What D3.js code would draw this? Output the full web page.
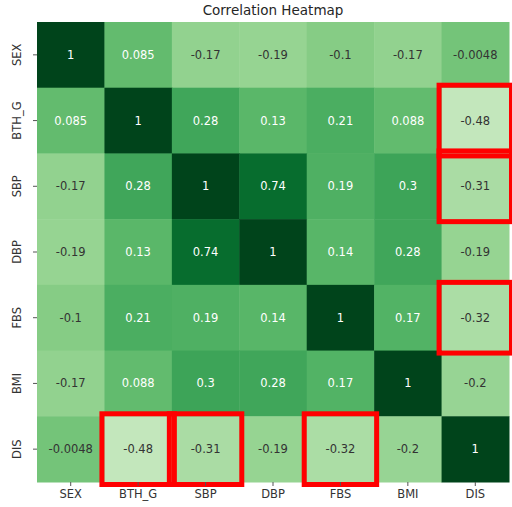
<!DOCTYPE html>
<html><head><meta charset="utf-8">
<script src="https://cdn.jsdelivr.net/npm/d3@7"></script>
<style>body{margin:0;background:#fff}svg{display:block}text{font-family:"DejaVu Sans",sans-serif}</style>
</head><body>
<svg id="c" width="512" height="507"></svg>
<script>
const labels = ["SEX","BTH_G","SBP","DBP","FBS","BMI","DIS"];
const rowSEX   = [1, 0.085, -0.17, -0.19, -0.1, -0.17, -0.0048];
const rowBTH_G = [0.085, 1, 0.28, 0.13, 0.21, 0.088, -0.48];
const rowSBP   = [-0.17, 0.28, 1, 0.74, 0.19, 0.3, -0.31];
const rowDBP   = [-0.19, 0.13, 0.74, 1, 0.14, 0.28, -0.19];
const rowFBS   = [-0.1, 0.21, 0.19, 0.14, 1, 0.17, -0.32];
const rowBMI   = [-0.17, 0.088, 0.3, 0.28, 0.17, 1, -0.2];
const rowDIS   = [-0.0048, -0.48, -0.31, -0.19, -0.32, -0.2, 1];
const matrix = [rowSEX,rowBTH_G,rowSBP,rowDBP,rowFBS,rowBMI,rowDIS];
const highlights = [["DIS","BTH_G"],["DIS","SBP"],["DIS","FBS"],["BTH_G","DIS"],["SBP","DIS"],["FBS","DIS"]];

const svg = d3.select("#c");
const L = 37, T = 22, R = 509, B = 482;
const x = d3.scaleBand().domain(labels).range([L, R]);
const y = d3.scaleBand().domain(labels).range([T, B]);
const color = d3.scaleSequential(d3.interpolateGreens).domain([-1, 1]);

const cells = [];
matrix.forEach((row, i) => row.forEach((v, j) => cells.push({r: labels[i], c: labels[j], v})));

function lum(c) {
  const rgb = d3.rgb(c);
  const f = u => { u /= 255; return u <= 0.03928 ? u / 12.92 : Math.pow((u + 0.055) / 1.055, 2.4); };
  return 0.2126 * f(rgb.r) + 0.7152 * f(rgb.g) + 0.0722 * f(rgb.b);
}

svg.selectAll("rect.cell").data(cells).enter().append("rect")
  .attr("class","cell")
  .attr("x", d => x(d.c)).attr("y", d => y(d.r))
  .attr("width", x.bandwidth() + 0.5).attr("height", y.bandwidth() + 0.5)
  .attr("fill", d => color(d.v));

svg.selectAll("text.val").data(cells).enter().append("text")
  .attr("class","val")
  .attr("x", d => x(d.c) + x.bandwidth()/2)
  .attr("y", d => y(d.r) + y.bandwidth()/2)
  .attr("dy","0.35em").attr("text-anchor","middle")
  .attr("font-size", 11.5)
  .attr("fill", d => lum(color(d.v)) > 0.408 ? "#333333" : "#ffffff")
  .text(d => String(d.v));

// highlight boxes
svg.selectAll("rect.hl").data(highlights).enter().append("rect")
  .attr("class","hl")
  .attr("x", d => x(d[1]) - 2.5).attr("y", d => y(d[0]) - 2.5)
  .attr("width", x.bandwidth() + 5).attr("height", y.bandwidth() + 5)
  .attr("fill","none").attr("stroke","#ff0000").attr("stroke-width",5);

// axes
const xAxis = d3.axisBottom(x).tickSize(4).tickPadding(4);
const gx = svg.append("g").attr("transform",`translate(0,${B})`).call(xAxis);
gx.select(".domain").remove();
gx.selectAll("text").attr("font-size",11.5).attr("fill","#333").style("font-family","DejaVu Sans");
gx.selectAll("line").attr("stroke","#555");

const yAxis = d3.axisLeft(y).tickSize(4).tickPadding(4);
const gy = svg.append("g").attr("transform",`translate(${L},0)`).call(yAxis);
gy.select(".domain").remove();
gy.selectAll("line").attr("stroke","#555");
gy.selectAll("text").attr("font-size",11.5).attr("fill","#333").style("font-family","DejaVu Sans")
  .attr("text-anchor","middle").attr("x",null).attr("dy",null)
  .attr("transform","translate(-16,0) rotate(-90)");

svg.append("text").attr("x", (L+R)/2).attr("y", 15).attr("text-anchor","middle")
  .attr("font-size", 13.5).attr("fill","#262626").text("Correlation Heatmap");
</script>
</body></html>
